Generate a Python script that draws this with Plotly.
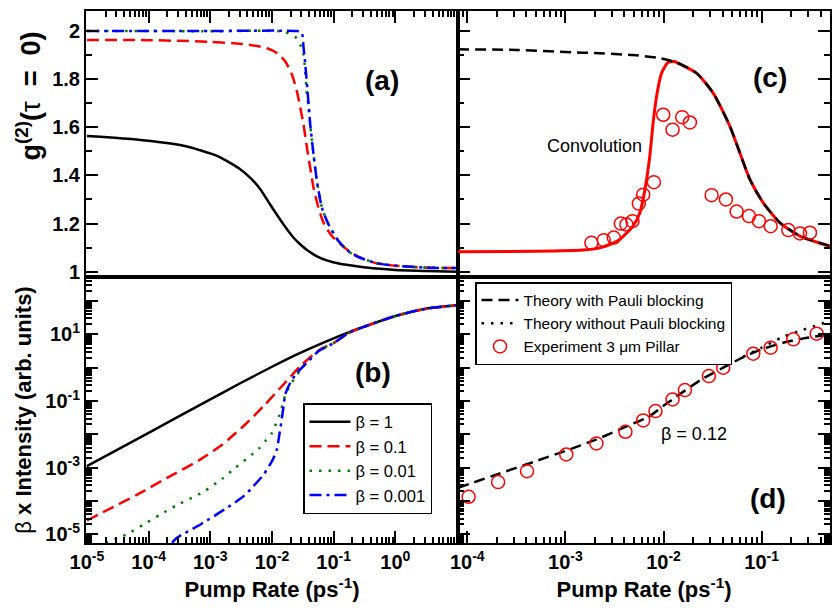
import plotly.graph_objects as go

# ---------------- data ----------------
# (a) g2(0) vs pump rate
a_b1_x = [1e-5, 5.8e-5, 3.7e-4, 1.29e-3, 3.05e-3, 4.45e-3, 6.46e-3, 9.33e-3, 1.54e-2, 2.24e-2, 2.83e-2, 3.69e-2, 5.25e-2, 7.94e-2, 0.126, 0.251, 0.5, 1.0, 3.16, 10]
a_b1_y = [1.564, 1.55, 1.523, 1.481, 1.426, 1.39, 1.343, 1.279, 1.196, 1.141, 1.115, 1.09, 1.065, 1.046, 1.033, 1.022, 1.013, 1.007, 1.003, 1.0]
a_b01_x = [1e-5, 1e-4, 1e-3, 2.4e-3, 4.45e-3, 8.3e-3, 1.205e-2, 1.644e-2, 2.11e-2, 2.54e-2, 2.88e-2, 3.25e-2, 3.69e-2, 4.17e-2, 4.72e-2, 5.69e-2, 6.86e-2, 9.38e-2, 0.164, 0.27, 0.5, 1.0, 3.16, 10]
a_b01_y = [1.963, 1.962, 1.955, 1.949, 1.942, 1.928, 1.908, 1.873, 1.818, 1.748, 1.68, 1.61, 1.514, 1.431, 1.348, 1.265, 1.203, 1.148, 1.092, 1.058, 1.035, 1.025, 1.017, 1.015]
a_b001_x = [1e-5, 1e-3, 1.54e-2, 2.39e-2, 2.88e-2, 3.25e-2, 3.69e-2, 3.93e-2, 4.17e-2, 4.72e-2, 5.36e-2, 6.46e-2, 8.26e-2, 0.12, 0.186, 0.27, 0.5, 1.0, 3.16, 10]
a_b001_y = [2.0, 1.999, 1.997, 1.976, 1.942, 1.90, 1.735, 1.68, 1.61, 1.486, 1.375, 1.265, 1.196, 1.127, 1.079, 1.058, 1.035, 1.025, 1.017, 1.015]
a_b0001_x = [1e-5, 1e-3, 2.51e-2, 3.02e-2, 3.25e-2, 3.47e-2, 3.93e-2, 4.17e-2, 4.72e-2, 5.36e-2, 6.46e-2, 8.26e-2, 0.12, 0.186, 0.27, 0.5, 1.0, 3.16, 10]
a_b0001_y = [2.0, 2.0, 2.0, 1.995, 1.93, 1.859, 1.693, 1.61, 1.486, 1.375, 1.265, 1.196, 1.127, 1.079, 1.058, 1.035, 1.025, 1.017, 1.015]

# (b) beta x intensity vs pump rate
b_b1_x = [1e-5, 1e-4, 1e-3, 3.16e-3, 1e-2, 2.54e-2, 7.78e-2, 0.178, 0.336, 1.0, 3.16, 10]
b_b1_y = [1.12e-3, 1.12e-2, 0.112, 0.355, 1.07, 2.51, 6.31, 11.7, 17.8, 35.5, 58.9, 74.1]
b_b01_x = [1e-5, 2.51e-5, 6.31e-5, 2.0e-4, 6.92e-4, 1.58e-3, 2.11e-3, 3.94e-3, 7.31e-3, 1.54e-2, 2.88e-2, 6.07e-2, 0.1, 0.178, 0.336, 1.0, 3.16, 10]
b_b01_y = [2.63e-5, 6.31e-5, 1.51e-4, 5.01e-4, 1.78e-3, 5.01e-3, 7.94e-3, 2.24e-2, 7.08e-2, 0.316, 1.12, 3.55, 5.5, 11.2, 17.8, 35.5, 58.9, 74.1]
b_b001_x = [2.0e-5, 4.37e-5, 8.32e-5, 1.55e-4, 2.88e-4, 7.76e-4, 1.58e-3, 2.54e-3, 3.47e-3, 4.73e-3, 6.31e-3, 7.78e-3, 1.0e-2, 1.33e-2, 1.49e-2, 1.64e-2, 1.93e-2, 2.88e-2, 3.69e-2, 5.69e-2, 0.1, 0.178, 0.336, 1.0, 3.16, 10]
b_b001_y = [5.62e-6, 1.0e-5, 2.0e-5, 3.98e-5, 7.59e-5, 1.91e-4, 4.79e-4, 1.0e-3, 1.58e-3, 2.51e-3, 3.98e-3, 6.31e-3, 1.12e-2, 3.98e-2, 7.94e-2, 0.148, 0.282, 0.851, 1.48, 3.16, 5.5, 11.2, 17.8, 35.5, 58.9, 74.1]
b_b0001_x = [2.4e-4, 2.88e-4, 6.92e-4, 1.7e-3, 3.47e-3, 5.01e-3, 7.31e-3, 1.0e-2, 1.2e-2, 1.33e-2, 1.45e-2, 1.54e-2, 1.64e-2, 1.98e-2, 2.54e-2, 3.69e-2, 5.69e-2, 0.1, 0.178, 0.336, 1.0, 3.16, 10]
b_b0001_y = [5.62e-6, 7.94e-6, 2.0e-5, 5.62e-5, 1.41e-4, 2.82e-4, 6.31e-4, 1.58e-3, 3.55e-3, 1.12e-2, 3.16e-2, 7.08e-2, 0.158, 0.355, 0.708, 1.41, 3.16, 5.5, 11.2, 17.8, 35.5, 58.9, 74.1]

# (c) g2 theory and experiment (3 um pillar)
c_theory_x = [8.04e-5, 3.16e-4, 1.51e-3, 4.9e-3, 9.12e-3, 1.36e-2, 2.17e-2, 3.21e-2, 4.75e-2, 6.01e-2, 7.6e-2, 0.104, 0.154, 0.246, 0.498]
c_theory_y = [1.924, 1.921, 1.910, 1.90, 1.887, 1.869, 1.825, 1.742, 1.604, 1.493, 1.383, 1.286, 1.203, 1.148, 1.106]
c_conv_x = [8.04e-5, 5.0e-4, 1.51e-3, 2.24e-3, 2.83e-3, 3.58e-3, 4.9e-3, 5.73e-3, 6.46e-3, 7.24e-3, 7.83e-3, 8.49e-3, 9.55e-3, 1.11e-2, 1.30e-2, 1.36e-2, 2.17e-2, 3.21e-2, 4.75e-2, 6.01e-2, 7.6e-2, 0.104, 0.154, 0.246, 0.498]
c_conv_y = [1.083, 1.085, 1.090, 1.099, 1.113, 1.134, 1.19, 1.244, 1.341, 1.479, 1.617, 1.728, 1.825, 1.869, 1.873, 1.869, 1.825, 1.742, 1.604, 1.493, 1.383, 1.286, 1.203, 1.148, 1.106]
c_exp_x = [0.00184, 0.00246, 0.00311, 0.00367, 0.00419, 0.00483, 0.0056, 0.00621, 0.00797, 0.00993, 0.01236, 0.01549, 0.01857, 0.0309, 0.04325, 0.0556, 0.0743, 0.0939, 0.1236, 0.187, 0.246, 0.311]
c_exp_y = [1.120, 1.131, 1.142, 1.200, 1.196, 1.210, 1.283, 1.320, 1.372, 1.652, 1.590, 1.642, 1.620, 1.318, 1.300, 1.250, 1.231, 1.210, 1.189, 1.173, 1.159, 1.162]

# (d) beta x intensity, theory and experiment
d_pauli_x = [8.04e-5, 2.14e-4, 4.68e-4, 9.84e-4, 2.07e-3, 4.19e-3, 7.26e-3, 9.93e-3, 1.236e-2, 1.66e-2, 2.54e-2, 4.06e-2, 6.5e-2, 0.1, 0.166, 0.266, 0.498]
d_pauli_y = [2.51e-4, 6.76e-4, 1.48e-3, 3.16e-3, 7.08e-3, 1.74e-2, 3.55e-2, 7.08e-2, 0.112, 0.209, 0.479, 1.0, 2.09, 3.55, 5.62, 7.59, 10.0]
d_nopauli_x = [6.5e-2, 0.1, 0.166, 0.266, 0.498]
d_nopauli_y = [2.14, 3.98, 8.51, 13.8, 25.1]
d_exp_x = [1.03e-4, 2.06e-4, 4.06e-4, 1.02e-3, 2.07e-3, 4.09e-3, 6.21e-3, 8.28e-3, 0.01236, 0.01652, 0.0290, 0.0406, 0.0822, 0.1236, 0.2104, 0.364]
d_exp_y = [1.35e-4, 3.72e-4, 7.94e-4, 2.51e-3, 5.37e-3, 0.0120, 0.0263, 0.0501, 0.112, 0.214, 0.562, 1.0, 2.63, 3.98, 7.08, 10.5]

# tick labels
g2_tickvals = [1.0, 1.2, 1.4, 1.6, 1.8, 2.0]
g2_ticktext = ["1", "1.2", "1.4", "1.6", "1.8", "2"]
g2_minor = [1.1, 1.3, 1.5, 1.7, 1.9]
xl_tickvals = [1e-5, 1e-4, 1e-3, 1e-2, 1e-1, 1e0]
xl_ticktext = ["10<sup>-5</sup>", "10<sup>-4</sup>", "10<sup>-3</sup>", "10<sup>-2</sup>", "10<sup>-1</sup>", "10<sup>0</sup>"]
xr_tickvals = [1e-4, 1e-3, 1e-2, 1e-1]
xr_ticktext = ["10<sup>-4</sup>", "10<sup>-3</sup>", "10<sup>-2</sup>", "10<sup>-1</sup>"]
yl_tickvals = [1e-5, 1e-4, 1e-3, 1e-2, 1e-1, 1e0, 1e1, 1e2]
yl_ticktext = ["10<sup>-5</sup>", "", "10<sup>-3</sup>", "", "10<sup>-1</sup>", "", "10<sup>1</sup>", ""]

log_minor = [k * 10.0 ** e for e in range(-7, 3) for k in range(2, 10)]
log_major_all = [10.0 ** e for e in range(-7, 3)]

FONT = "Liberation Sans, Arial, Helvetica, sans-serif"
RED = "#ff0000"
GREEN = "#008000"
BLUE = "#0000ff"
NB = "\u00a0"

fig = go.Figure()

sp = dict(shape="spline", smoothing=0.6)

# (a)
fig.add_trace(go.Scatter(x=a_b1_x, y=a_b1_y, mode="lines", line=dict(color="black", width=2.5, **sp), xaxis="x", yaxis="y", showlegend=False))
fig.add_trace(go.Scatter(x=a_b01_x, y=a_b01_y, mode="lines", line=dict(color=RED, width=2.5, dash="12px,6px", **sp), xaxis="x", yaxis="y", showlegend=False))
fig.add_trace(go.Scatter(x=a_b001_x, y=a_b001_y, mode="lines", line=dict(color=GREEN, width=2.5, dash="2.5px,7px", **sp), xaxis="x", yaxis="y", showlegend=False))
fig.add_trace(go.Scatter(x=a_b0001_x, y=a_b0001_y, mode="lines", line=dict(color=BLUE, width=2.5, dash="12px,5px,3px,5px", **sp), xaxis="x", yaxis="y", showlegend=False))

# (b)
fig.add_trace(go.Scatter(x=b_b1_x, y=b_b1_y, mode="lines", name="β = 1", line=dict(color="black", width=2.5, **sp), xaxis="x2", yaxis="y2", legend="legend"))
fig.add_trace(go.Scatter(x=b_b01_x, y=b_b01_y, mode="lines", name="β = 0.1", line=dict(color=RED, width=2.5, dash="12px,6px", **sp), xaxis="x2", yaxis="y2", legend="legend"))
fig.add_trace(go.Scatter(x=b_b001_x, y=b_b001_y, mode="lines", name="β = 0.01", line=dict(color=GREEN, width=2.5, dash="2.5px,7px", **sp), xaxis="x2", yaxis="y2", legend="legend"))
fig.add_trace(go.Scatter(x=b_b0001_x, y=b_b0001_y, mode="lines", name="β = 0.001", line=dict(color=BLUE, width=2.5, dash="12px,5px,3px,5px", **sp), xaxis="x2", yaxis="y2", legend="legend"))

# (c)
fig.add_trace(go.Scatter(x=c_conv_x, y=c_conv_y, mode="lines", line=dict(color=RED, width=3, **sp), xaxis="x3", yaxis="y3", showlegend=False))
fig.add_trace(go.Scatter(x=c_theory_x, y=c_theory_y, mode="lines", line=dict(color="black", width=2.5, dash="11px,6px", **sp), xaxis="x3", yaxis="y3", showlegend=False))
fig.add_trace(go.Scatter(x=c_exp_x, y=c_exp_y, mode="markers", marker=dict(symbol="circle-open", size=13, color=RED, line=dict(width=1.5, color=RED)), xaxis="x3", yaxis="y3", showlegend=False))

# (d)
fig.add_trace(go.Scatter(x=d_nopauli_x, y=d_nopauli_y, mode="lines", name="Theory without Pauli blocking", legendrank=2, line=dict(color="black", width=2.5, dash="2.5px,7px", **sp), xaxis="x4", yaxis="y4", legend="legend2"))
fig.add_trace(go.Scatter(x=d_pauli_x, y=d_pauli_y, mode="lines", name="Theory with Pauli blocking", legendrank=1, line=dict(color="black", width=2.5, dash="11px,6px", **sp), xaxis="x4", yaxis="y4", legend="legend2"))
fig.add_trace(go.Scatter(x=d_exp_x, y=d_exp_y, mode="markers", name="Experiment 3 μm Pillar", legendrank=3, marker=dict(symbol="circle-open", size=13, color=RED, line=dict(width=1.5, color=RED)), xaxis="x4", yaxis="y4", legend="legend2"))

W, H = 838, 613
ML, MR, MT, MB = 86, 8, 11, 70
PW, PH = W - ML - MR, H - MT - MB
XL = [0.0, 0.5]
XR = [0.5, 1.0]
YT = [0.5, 1.0]
YB = [0.0, 0.5]

tickfont = dict(family=FONT, size=20, color="black", weight="bold")
common = dict(showline=True, linecolor="black", linewidth=2, showgrid=False, zeroline=False, automargin=False,
              ticks="inside", tickcolor="black", tickwidth=1.5, ticklen=12, tickfont=tickfont)
log_minor_d = dict(tickmode="array", tickvals=log_minor, ticks="inside", ticklen=6, tickwidth=1.5, tickcolor="black", showgrid=False)
lin_minor_d = dict(tickmode="array", tickvals=g2_minor, ticks="inside", ticklen=6, tickwidth=1.5, tickcolor="black", showgrid=False)

title_font = dict(family=FONT, size=22, color="black")
g2_title = "<b>g</b><sup><b>(2)</b></sup><b>(</b>τ" + NB + NB + "<b>=</b>" + NB + NB + "<b>0)</b>"

fig.update_layout(
    width=W, height=H,
    margin=dict(l=ML, r=MR, t=MT, b=MB),
    paper_bgcolor="white", plot_bgcolor="white",
    font=dict(family=FONT, color="black"),
    xaxis=dict(domain=XL, anchor="y", type="log", range=[-5.015, 1.015], side="top", mirror=True,
               tickmode="array", tickvals=log_major_all, showticklabels=False, minor=log_minor_d, **common),
    yaxis=dict(domain=YT, anchor="x", range=[0.978, 2.083], mirror=True,
               tickmode="array", tickvals=g2_tickvals, ticktext=g2_ticktext, minor=lin_minor_d,
               **common),
    xaxis2=dict(domain=XL, anchor="y2", type="log", range=[-5.015, 1.015], side="bottom", mirror=True,
                tickmode="array", tickvals=xl_tickvals, ticktext=xl_ticktext, minor=log_minor_d,
                title=dict(text="<b>Pump Rate (ps<sup>-1</sup>)</b>", font=title_font, standoff=10),
                **common),
    yaxis2=dict(domain=YB, anchor="x2", type="log", range=[-5.255, 2.72], mirror=True,
                tickmode="array", tickvals=yl_tickvals, ticktext=yl_ticktext, minor=log_minor_d,
                title=dict(text="β <b>x Intensity (arb. units)</b>", font=title_font, standoff=8),
                **common),
    xaxis3=dict(domain=XR, anchor="y3", type="log", range=[-4.095, -0.303], side="top", mirror=True,
                tickmode="array", tickvals=log_major_all, showticklabels=False, minor=log_minor_d, **common),
    yaxis3=dict(domain=YT, anchor="x3", range=[0.978, 2.083], mirror="ticks",
                tickmode="array", tickvals=g2_tickvals, showticklabels=False, minor=lin_minor_d, **common),
    xaxis4=dict(domain=XR, anchor="y4", type="log", range=[-4.095, -0.303], side="bottom", mirror=True,
                tickmode="array", tickvals=xr_tickvals, ticktext=xr_ticktext, minor=log_minor_d,
                title=dict(text="<b>Pump Rate (ps<sup>-1</sup>)</b>", font=title_font, standoff=10),
                **common),
    yaxis4=dict(domain=YB, anchor="x4", type="log", range=[-5.255, 2.72], mirror="ticks",
                tickmode="array", tickvals=log_major_all, showticklabels=False, minor=log_minor_d, **common),
    legend=dict(x=(303 - ML) / PW, y=(H - MB - 403) / PH, xanchor="left", yanchor="top", bgcolor="white",
                bordercolor="black", borderwidth=1.5, font=dict(family=FONT, size=16.5, color="black"),
                itemwidth=41),
    legend2=dict(x=(475 - ML) / PW, y=(H - MB - 282) / PH, xanchor="left", yanchor="top", bgcolor="white",
                 bordercolor="black", borderwidth=1.5, font=dict(family=FONT, size=15.5, color="black"),
                 itemwidth=37),
)

ann = [
    dict(text="<b>(a)</b>", x=382, y=80, size=28),
    dict(text="<b>(b)</b>", x=373, y=372, size=28),
    dict(text="<b>(c)</b>", x=770, y=77, size=28),
    dict(text="<b>(d)</b>", x=768, y=498, size=28),
    dict(text="Convolution", x=594, y=146, size=18),
    dict(text="β = 0.12", x=694, y=434, size=18),
]
for a in ann:
    fig.add_annotation(text=a["text"], x=(a["x"] - ML) / PW, y=(H - MB - a["y"]) / PH,
                       xref="paper", yref="paper",
                       xanchor="center", yanchor="middle", showarrow=False,
                       font=dict(family=FONT, size=a["size"], color="black"))

# y-axis title of panel (a), placed like the original (toward the top of the panel)
fig.add_annotation(text=g2_title, x=(28 - ML) / PW, y=(H - MB - 30) / PH, xref="paper", yref="paper",
                   xanchor="center", yanchor="top", textangle=-90, showarrow=False,
                   font=dict(family=FONT, size=27, color="black"))

fig.write_html("out.html")
